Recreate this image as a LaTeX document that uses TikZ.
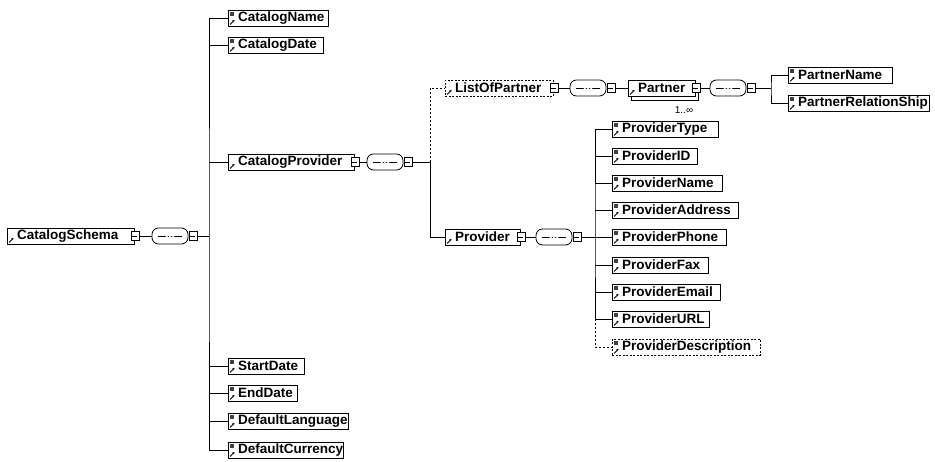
\documentclass[tikz,border=0pt]{standalone}
\usepackage{fontspec}
\setmainfont{Liberation Sans}
\usetikzlibrary{arrows.meta}
\tikzset{
  ebox/.style={draw, line width=0.9pt, fill=white, minimum height=16pt, inner sep=0pt, anchor=west},
  optbox/.style={ebox, dash pattern=on 2pt off 1.5pt},
  etext/.style={font=\bfseries\fontsize{13.5}{14}\selectfont, inner sep=0pt, anchor=west},
  mbtn/.style={draw, line width=0.7pt, fill=white, minimum width=8pt, minimum height=9pt, inner sep=0pt,
    path picture={\draw[line width=0.7pt] ([xshift=1.5pt]path picture bounding box.west) -- ([xshift=-1.5pt]path picture bounding box.east);}},
  seqbox/.style={draw, line width=0.8pt, fill=white, minimum width=36pt, minimum height=16pt, inner sep=0pt, rounded corners=6.5pt,
    path picture={\draw[line width=0.7pt] ([xshift=6pt]path picture bounding box.west) -- ([xshift=-6pt]path picture bounding box.east);
      \foreach \d in {-3.2,0,3.2}{\fill ([xshift=\d pt]path picture bounding box.center) circle (1.4pt);}}},
  conn/.style={line width=0.8pt},
  optconn/.style={conn, dash pattern=on 2pt off 2pt},
  multtext/.style={font=\fontsize{10}{10}\selectfont, inner sep=0pt},
}
\newcommand{\elembox}[6][ebox]{%
  \node[#1, minimum width={#4-#3}] (#2) at (#3,#5) {};
  \node[etext] (#2t) at ([xshift=10pt]#2.west) {#6};
  \draw[line width=0.9pt, -{Stealth[length=2.2pt,width=2.4pt]}] ([shift={(2pt,2pt)}]#2.south west) -- ++(4.5pt,4.5pt);
}
\newcommand{\leafmark}[1]{\fill[black!75] ([shift={(2pt,-2pt)}]#1.north west) rectangle ++(4pt,-4pt);}
\begin{document}
\begin{tikzpicture}[x=1pt,y=-1pt]
\useasboundingbox (0,0) rectangle (935,461);

% ---------- root ----------
\elembox{CatalogSchema}{7}{134}{236}{CatalogSchema}
\node[mbtn] (mb0) at (CatalogSchema.east) {};
\node[seqbox] (seq0) at (170,236) {};
\node[mbtn] (sm0) at ([xshift=4.5pt]seq0.east) {};
\coordinate (v0) at (209,236);
\draw[conn] (mb0) -- (seq0);
\draw[conn] (sm0) -- (v0);

\elembox{CatalogName}{228}{328}{18}{CatalogName}
\elembox{CatalogDate}{228}{323}{45}{CatalogDate}
\elembox{CatalogProvider}{228}{354}{162}{CatalogProvider}
\elembox{StartDate}{228}{304}{366}{StartDate}
\elembox{EndDate}{228}{297}{393}{EndDate}
\elembox{DefaultLanguage}{228}{348}{421}{DefaultLanguage}
\elembox{DefaultCurrency}{228}{343}{450}{DefaultCurrency}
\foreach \n in {CatalogName,CatalogDate,StartDate,EndDate,DefaultLanguage,DefaultCurrency}{\leafmark{\n}}

\draw[conn] (CatalogName.west) -| (v0) |- (DefaultCurrency.west);
\foreach \n in {CatalogDate,CatalogProvider,StartDate,EndDate,DefaultLanguage}{
  \draw[conn] (\n.west) -- (\n.west -| v0);
}

% ---------- CatalogProvider ----------
\node[mbtn] (mb1) at (CatalogProvider.east) {};
\node[seqbox] (seq1) at (385,162) {};
\node[mbtn] (sm1) at ([xshift=4.5pt]seq1.east) {};
\coordinate (v1) at (430,162);
\draw[conn] (mb1) -- (seq1);
\draw[conn] (sm1) -- (v1);

% ListOfPartner
\elembox[optbox]{ListOfPartner}{445}{553}{88}{ListOfPartner}
\node[mbtn] (mb2) at (ListOfPartner.east) {};
\node[seqbox] (seq2) at (588,88) {};
\node[mbtn] (sm2) at ([xshift=4.5pt]seq2.east) {};
\draw[optconn] (v1) |- (ListOfPartner.west);
\draw[conn] (mb2) -- (seq2);

% Partner (1..inf)
\node[ebox, minimum width=67pt] (PartnerBack) at (631,92) {};
\elembox{Partner}{628}{695}{88}{Partner}
\node[mbtn] (mb3) at (Partner.east) {};
\node[multtext] (PartnerMult) at (684,110) {1..∞};
\draw[conn] (sm2) -- (Partner.west);
\node[seqbox] (seq3) at (728,88) {};
\node[mbtn] (sm3) at ([xshift=4.5pt]seq3.east) {};
\coordinate (v3) at (771,88);
\draw[conn] (mb3) -- (seq3);
\draw[conn] (sm3) -- (v3);
\elembox{PartnerName}{788}{892}{75}{PartnerName}
\elembox{PartnerRelationShip}{788}{929}{103}{PartnerRelationShip}
\leafmark{PartnerName}
\leafmark{PartnerRelationShip}
\draw[conn] (PartnerName.west) -| (v3) |- (PartnerRelationShip.west);

% Provider
\elembox{Provider}{445}{520}{237}{Provider}
\node[mbtn] (mb4) at (Provider.east) {};
\draw[conn] (v1) |- (Provider.west);
\node[seqbox] (seq4) at (554,237) {};
\node[mbtn] (sm4) at ([xshift=4.5pt]seq4.east) {};
\coordinate (v4) at (595,237);
\draw[conn] (mb4) -- (seq4);
\draw[conn] (sm4) -- (v4);

\elembox{ProviderType}{612}{718}{129}{ProviderType}
\elembox{ProviderID}{612}{697}{156}{ProviderID}
\elembox{ProviderName}{612}{722}{183}{ProviderName}
\elembox{ProviderAddress}{612}{738}{210}{ProviderAddress}
\elembox{ProviderPhone}{612}{726}{237}{ProviderPhone}
\elembox{ProviderFax}{612}{708}{265}{ProviderFax}
\elembox{ProviderEmail}{612}{720}{292}{ProviderEmail}
\elembox{ProviderURL}{612}{709}{319}{ProviderURL}
\elembox[optbox]{ProviderDescription}{612}{760}{347}{ProviderDescription}
\foreach \n in {ProviderType,ProviderID,ProviderName,ProviderAddress,ProviderPhone,ProviderFax,ProviderEmail,ProviderURL,ProviderDescription}{\leafmark{\n}}

\draw[conn] (ProviderType.west) -| (v4) |- (ProviderURL.west);
\foreach \n in {ProviderID,ProviderName,ProviderAddress,ProviderPhone,ProviderFax,ProviderEmail}{
  \draw[conn] (\n.west) -- (\n.west -| v4);
}
\draw[optconn] (ProviderURL.west -| v4) |- (ProviderDescription.west);
\end{tikzpicture}
\end{document}
